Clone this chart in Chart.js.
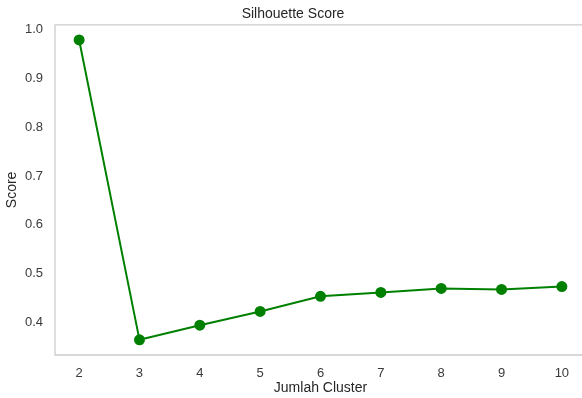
<!DOCTYPE html>
<html>
<head>
<meta charset="utf-8">
<script src="https://cdn.jsdelivr.net/npm/chart.js@4/dist/chart.umd.min.js"></script>
<style>
    html, body { margin: 0; padding: 0; background: #fff; overflow: hidden; }
    #wrap { width: 600px; height: 398px; }
</style>
</head>
<body>
<div id="wrap"><canvas id="chart" width="600" height="398"></canvas></div>
<script>
const clusters = [2, 3, 4, 5, 6, 7, 8, 9, 10];
const scores = [0.978, 0.365, 0.395, 0.423, 0.454, 0.462, 0.470, 0.468, 0.474];
const xTicks = [2, 3, 4, 5, 6, 7, 8, 9, 10];
const yTicks = [0.4, 0.5, 0.6, 0.7, 0.8, 0.9, 1.0];

const FONT = "'Liberation Sans', Arial, sans-serif";
const TEXT = "#3a3a3a";

// light grey spines: left, top and bottom (the right one falls outside the window)
const frame = {
    id: "frame",
    beforeDatasetsDraw(chart) {
        const { ctx, chartArea: a } = chart;
        ctx.save();
        ctx.strokeStyle = "#cccccc";
        ctx.lineWidth = 1.3;
        ctx.beginPath();
        ctx.moveTo(a.right, a.top);
        ctx.lineTo(a.left, a.top);
        ctx.lineTo(a.left, a.bottom);
        ctx.lineTo(a.right, a.bottom);
        ctx.stroke();
        ctx.restore();
    }
};

new Chart(document.getElementById("chart"), {
    type: "line",
    data: {
        datasets: [
            {
                label: "Silhouette Score",
                data: clusters.map((c, i) => ({ x: c, y: scores[i] })),
                borderColor: "#008000",
                backgroundColor: "#008000",
                borderWidth: 2,
                pointRadius: 4.5,
                pointHoverRadius: 4.5,
                tension: 0
            }
        ]
    },
    options: {
        responsive: false,
        animation: false,
        layout: { padding: { left: 0, right: 14, top: 0, bottom: 0 } },
        plugins: {
            legend: { display: false },
            tooltip: { enabled: false },
            title: {
                display: true,
                text: "Silhouette Score",
                color: "#262626",
                font: { family: FONT, size: 14, weight: "normal" },
                padding: { top: 6, bottom: 2 }
            }
        },
        scales: {
            x: {
                type: "linear",
                min: 1.6,
                max: 10.4,
                grid: { display: false, drawTicks: false },
                border: { display: false },
                afterBuildTicks: scale => { scale.ticks = xTicks.map(v => ({ value: v })); },
                afterFit: scale => { scale.height = 43; },
                ticks: {
                    color: TEXT,
                    padding: 11,
                    font: { family: FONT, size: 13 }
                },
                title: {
                    display: true,
                    text: "Jumlah Cluster",
                    color: "#262626",
                    font: { family: FONT, size: 14 },
                    padding: { top: 0, bottom: 1 }
                }
            },
            y: {
                type: "linear",
                min: 0.334,
                max: 1.009,
                grid: { display: false, drawTicks: false },
                border: { display: false },
                afterBuildTicks: scale => { scale.ticks = yTicks.map(v => ({ value: v })); },
                afterFit: scale => { scale.width = 55; },
                ticks: {
                    color: TEXT,
                    padding: 12,
                    font: { family: FONT, size: 13 },
                    callback: v => v.toFixed(1)
                },
                title: {
                    display: true,
                    text: "Score",
                    color: "#262626",
                    font: { family: FONT, size: 14 },
                    padding: { top: 4, bottom: 0 }
                }
            }
        }
    },
    plugins: [frame]
});
</script>
</body>
</html>
